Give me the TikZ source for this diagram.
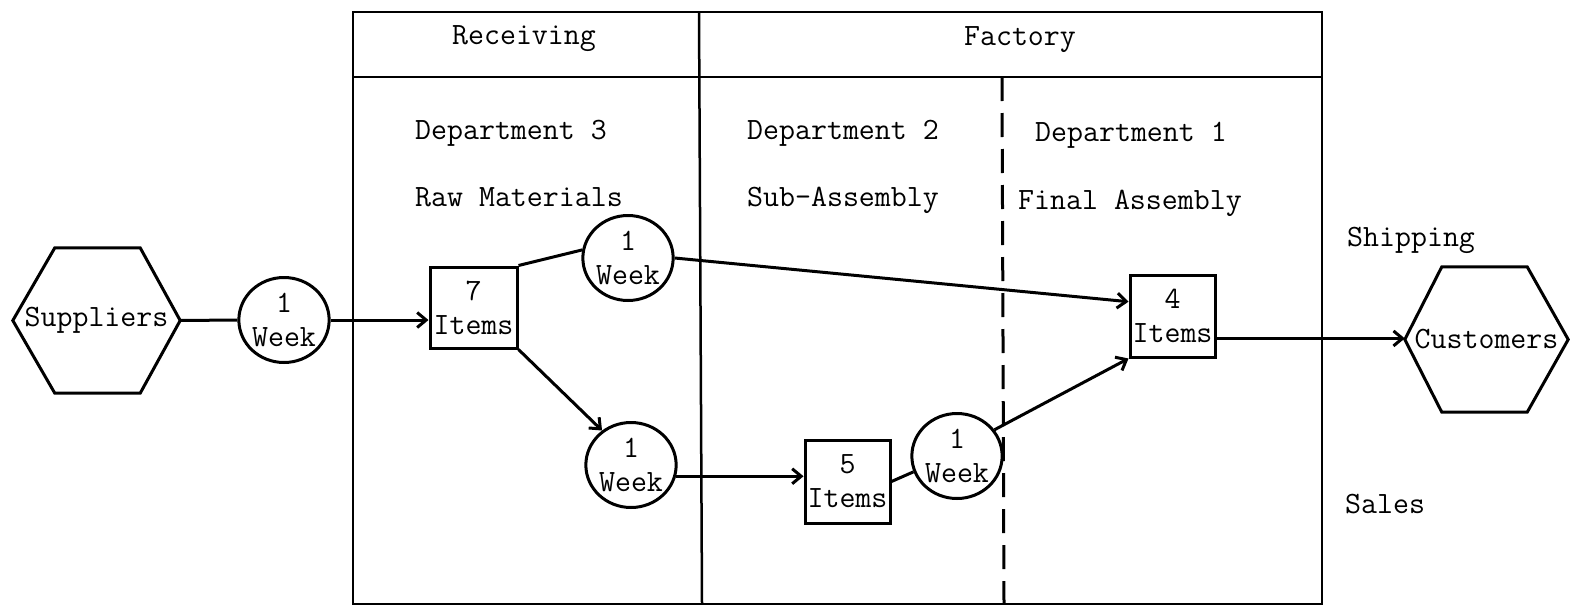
\documentclass[tikz,border=0pt]{standalone}
\usetikzlibrary{shapes.geometric,arrows.meta,calc}
\begin{document}
\begin{tikzpicture}[x=1pt,y=-1pt,
  every node/.style={font=\ttfamily\fontsize{31}{34}\selectfont},
  frameline/.style={line width=2.5pt},
  shapeline/.style={line width=3pt},
  conn/.style={line width=3pt},
  flow/.style={conn,-{Straight Barb[length=9pt,width=15pt]}},
  hexbox/.style={inner sep=0pt,minimum width=#1,minimum height=145pt},
  delay/.style={draw,shapeline,ellipse,inner sep=0pt,align=center},
  stock/.style={draw,shapeline,rectangle,inner sep=0pt,align=center,minimum width=85pt,minimum height=82pt},
  label/.style={anchor=base west,inner sep=0pt},
  head/.style={anchor=base,inner sep=0pt}]
\useasboundingbox (0,0) rectangle (1570,608);

% frame with the Receiving / Factory header
\coordinate (tl) at (353,12);
\coordinate (br) at (1322,604);
\coordinate (hl) at (353,77);
\coordinate (hr) at (1322,77);
\coordinate (dt) at (699,12);
\coordinate (db) at (702,604);
\coordinate (st) at (1002,77);
\coordinate (sb) at (1004,604);
\draw[frameline] (tl) rectangle (br);
\draw[frameline] (hl) -- (hr);
\draw[frameline] (dt) -- (db);
\draw[shapeline,dash pattern=on 24pt off 12pt] (st) -- (sb);

\node[head] (recv) at (524,44) {Receiving};
\node[head] (fact) at (1020,45) {Factory};
\node[label] (d3) at (415,139) {Department 3};
\node[label] (raw) at (415,206) {Raw Materials};
\node[label] (d2) at (747,139) {Department 2};
\node[label] (sub) at (747,206) {Sub-Assembly};
\node[label] (d1) at (1035,141) {Department 1};
\node[label] (fin) at (1018,209) {Final Assembly};
\node[label] (ship) at (1347,246) {Shipping};
\node[label] (sales) at (1345,513) {Sales};

% end points of the chain
\node[hexbox=167pt] (sup) at (96.5,320.5) {Suppliers};
\node[hexbox=163pt] (cus) at (1486.5,339.5) {Customers};
\draw[shapeline] (sup.west) -- ($(sup.north west)+(42,0)$) -- ($(sup.north east)+(-40,0)$)
  -- (sup.east) -- ($(sup.south east)+(-40,0)$) -- ($(sup.south west)+(42,0)$) -- cycle;
\draw[shapeline] (cus.west) -- ($(cus.north west)+(37,0)$) -- ($(cus.north east)+(-41,0)$)
  -- (cus.east) -- ($(cus.south east)+(-41,0)$) -- ($(cus.south west)+(37,0)$) -- cycle;

% delays and stock points
\node[delay,minimum width=85pt,minimum height=85pt] (w1) at (284,320) {1\\Week};
\node[stock,minimum width=87pt,minimum height=81pt] (b7) at (473.5,307.5) {7\\Items};
\node[delay,minimum width=87pt,minimum height=85pt] (wtop) at (628,258) {1\\Week};
\node[delay,minimum width=83pt,minimum height=85pt] (wbot) at (631,465) {1\\Week};
\node[stock,minimum height=83pt] (b5) at (847.5,481.5) {5\\Items};
\node[delay,minimum width=80pt,minimum height=85pt] (w2) at (957,456) {1\\Week};
\node[stock] (b4) at (1172.5,316) {4\\Items};

% flows
\draw[conn] (sup.east) -- (w1.west);
\draw[flow] (w1.east) -- (w1.east -| b7.west);
\draw[conn] (b7.north east) -- (wtop.170);
\draw[flow] (wtop.east) -- (b4.162);
\draw[flow] (b7.south east) -- (wbot.130);
\draw[flow] (wbot.-14) -- (wbot.-14 -| b5.west);
\draw[conn] (b5.east) -- (w2.200);
\draw[flow] (w2.35) -- (b4.south west);
\draw[flow] (b4.-27) -- (b4.-27 -| cus.west);
\end{tikzpicture}
\end{document}
